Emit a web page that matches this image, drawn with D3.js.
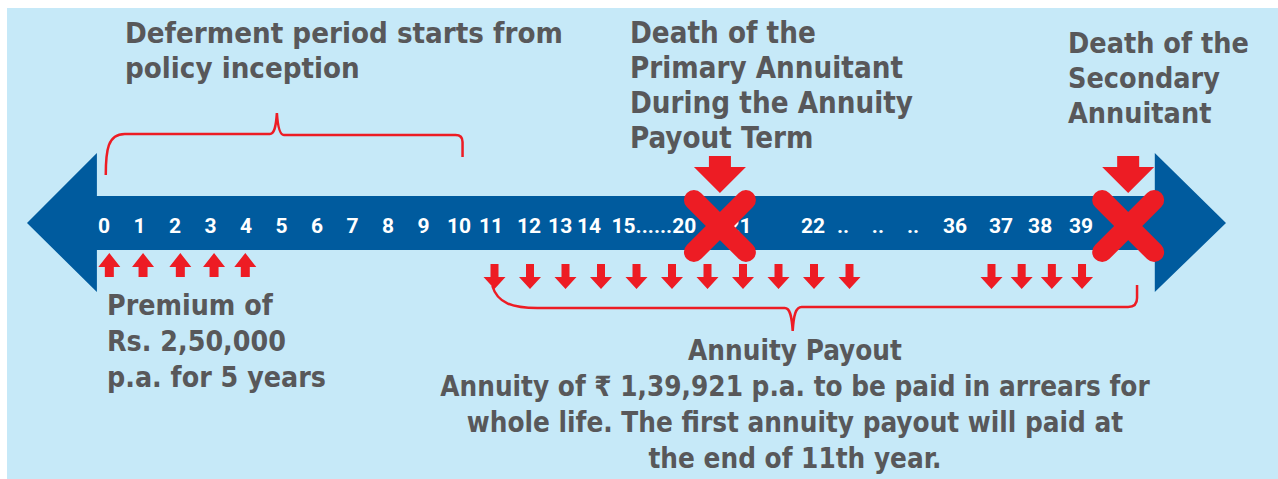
<!DOCTYPE html>
<html>
<head>
<meta charset="utf-8">
<script src="https://cdn.jsdelivr.net/npm/d3@7"></script>
<style>
  body { margin:0; background:#fff; }
  svg { display:block; }
</style>
</head>
<body>
<div id="plot"></div>
<script>
// timeline labels and where they sit along the axis (in year-slot units)
var yearLabels = ['0','1','2','3','4','5','6','7','8','9','10','11','12','13','14','15......20','21','22','..','..','..','36','37','38','39'];
var yearSlots  = [0,1,2,3,4,5,6,7,8,9,10,10.9,11.97,12.85,13.66,15.49,17.9,19.97,20.82,21.8,22.79,23.97,25.27,26.37,27.52];

// premium paid (up arrows) and annuity paid out (down arrows)
var premiumSlots = [0.15,1.1,2.15,3.1,3.98];
var payoutSlots  = [11,12,13,14,15,16,17,18,19,20,21,25,25.85,26.7,27.55];

// deaths marked with an X
var deathSlots = [17.35,28.85];

// text blocks
var deferText   = ['Deferment period starts from','policy inception'];
var primaryText = ['Death of the','Primary Annuitant','During the Annuity','Payout Term'];
var secondText  = ['Death of the','Secondary','Annuitant'];
var premiumText = ['Premium of','Rs. 2,50,000','p.a. for 5 years'];
var payoutText  = ['Annuity Payout','Annuity of \u20B9 1,39,921 p.a. to be paid in arrears for','whole life. The first annuity payout will paid at','the end of 11th year.'];

var W = 1278, H = 479;
var blue = '#005b9e', red = '#ed1c24', grey = '#58585a';

var svg = d3.select('#plot').append('svg')
    .attr('width',W)
    .attr('height',H);

svg.append('rect')
    .attr('x',7).attr('y',8)
    .attr('width',W-7).attr('height',H-8)
    .style('fill','#c6e9f8');

var x = d3.scaleLinear().domain([0,10]).range([104,459]);

//big double arrow
var yMid = 223, bodyTop = 196, bodyBot = 250, headTop = 153, headBot = 292;
var xL = x(-0.2), xR = x(29.6);
var arrowPts = [
    [27,yMid],[xL,headTop],[xL,bodyTop],[xR,bodyTop],[xR,headTop],[1226,yMid],
    [xR,headBot],[xR,bodyBot],[xL,bodyBot],[xL,headBot]
];
svg.append('polygon')
    .attr('points',arrowPts.map(function(p){return p.join(',');}).join(' '))
    .style('fill',blue);

// year labels
svg.append('g').selectAll('text')
    .data(yearLabels)
    .enter().append('text')
    .attr('x',function(d,i){return x(yearSlots[i]);})
    .attr('y',233)
    .attr('text-anchor','middle')
    .style('font-family','Roboto, sans-serif')
    .style('font-weight',700)
    .style('font-size','21px')
    .style('fill','#fff')
    .text(function(d){return d;});

// premium up arrows
function upArrow(cx){
    var t = 253;
    return [[cx,t],[cx+11,t+14],[cx+4.5,t+14],[cx+4.5,t+24],[cx-4.5,t+24],[cx-4.5,t+14],[cx-11,t+14]];
}
svg.append('g').selectAll('polygon')
    .data(premiumSlots)
    .enter().append('polygon')
    .attr('points',function(d){return upArrow(x(d)).map(function(p){return p.join(',');}).join(' ');})
    .style('fill',red);

// payout down arrows
function downArrow(cx){
    var t = 264;
    return [[cx-4,t],[cx+4,t],[cx+4,t+13],[cx+11,t+13],[cx,t+25],[cx-11,t+13],[cx-4,t+13]];
}
svg.append('g').selectAll('polygon')
    .data(payoutSlots)
    .enter().append('polygon')
    .attr('points',function(d){return downArrow(x(d)).map(function(p){return p.join(',');}).join(' ');})
    .style('fill',red);

// death markers: big arrow + X
function bigArrow(cx){
    return [[cx-11,156],[cx+11,156],[cx+11,167],[cx+26,167],[cx,193],[cx-26,167],[cx-11,167]];
}
var deaths = svg.append('g');
deaths.selectAll('polygon')
    .data(deathSlots)
    .enter().append('polygon')
    .attr('points',function(d){return bigArrow(x(d)).map(function(p){return p.join(',');}).join(' ');})
    .style('fill',red);
deathSlots.forEach(function(d){
    var cx = x(d), cy = 226, r = 26;
    [[-1,-1,1,1],[1,-1,-1,1]].forEach(function(s){
        deaths.append('line')
            .attr('x1',cx+s[0]*r).attr('y1',cy+s[1]*r)
            .attr('x2',cx+s[2]*r).attr('y2',cy+s[3]*r)
            .style('stroke',red)
            .style('stroke-width',20)
            .style('stroke-linecap','round');
    });
});

// braces
var a = x(0.05), b = x(10.1), m = x(4.87);
var topBrace = d3.path();
topBrace.moveTo(a,175);
topBrace.bezierCurveTo(a,150,a+2,134,a+19,134);
topBrace.lineTo(m-7,134);
topBrace.bezierCurveTo(m-3,134,m-1,128,m,113);
topBrace.bezierCurveTo(m+1,128,m+3,135,m+7,135);
topBrace.lineTo(b-7,135);
topBrace.quadraticCurveTo(b,135,b,142);
topBrace.lineTo(b,157);
svg.append('path').attr('d',topBrace.toString())
    .style('fill','none').style('stroke',red).style('stroke-width',2.5);

var c = x(10.94), e = x(29.1), n = x(19.4);
var botBrace = d3.path();
botBrace.moveTo(c,286);
botBrace.bezierCurveTo(c+5,303,c+20,308,c+45,308);
botBrace.lineTo(n-8,308);
botBrace.bezierCurveTo(n-3,308,n-1,315,n,331);
botBrace.bezierCurveTo(n+1,315,n+3,307,n+9,307);
botBrace.lineTo(e-9,307);
botBrace.quadraticCurveTo(e,307,e,298);
botBrace.lineTo(e,285);
svg.append('path').attr('d',botBrace.toString())
    .style('fill','none').style('stroke',red).style('stroke-width',2.5);

// text blocks, one text per line,
// font size fitted so the widest line matches the picture
function block(lines, x0, y0, lh, anchor, target){
    var t = svg.append('g').selectAll('text')
        .data(lines)
        .enter().append('text')
        .attr('x',x0)
        .attr('y',function(d,i){return y0+i*lh;})
        .attr('text-anchor',anchor)
        .style('font-family','"DejaVu Sans Condensed", "DejaVu Sans", sans-serif')
        .style('font-weight',700)
        .style('font-size','28px')
        .style('fill',grey)
        .text(function(d){return d;});
    var w = 0;
    t.each(function(){w = Math.max(w,this.getComputedTextLength());});
    t.style('font-size',(28*target/w)+'px');
}

block(deferText,125,43,35,'start',438);
block(primaryText,630,43,35,'start',283);
block(secondText,1068,53,35,'start',181);
block(premiumText,107,315,36,'start',219);
block(payoutText,795,360,36,'middle',710);
</script>
</body>
</html>
